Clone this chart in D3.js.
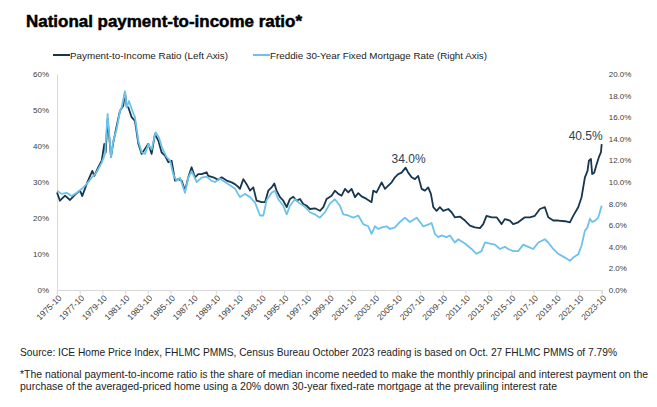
<!DOCTYPE html>
<html>
<head>
<meta charset="utf-8">
<script src="https://cdn.jsdelivr.net/npm/d3@7"></script>
<style>
  html, body { margin: 0; padding: 0; background: #fff; }
  svg { display: block; font-family: "Liberation Sans", Arial, sans-serif; }
</style>
</head>
<body>
<svg id="chart" width="657" height="407"></svg>
<script>
// ---- Data ----
const ratioDates = [1975.75,1976.01,1976.46,1976.90,1977.34,1977.78,1977.98,1978.36,1978.86,1979.04,1979.39,1979.69,1979.92,1980.04,1980.21,1980.51,1980.71,1981.01,1981.30,1981.59,1981.74,1981.89,1982.04,1982.33,1982.62,1982.92,1983.21,1983.50,1983.80,1984.09,1984.38,1984.68,1984.97,1985.27,1985.56,1985.85,1986.15,1986.44,1986.73,1987.03,1987.32,1987.61,1987.91,1988.20,1988.50,1988.94,1989.08,1989.52,1989.96,1990.26,1990.70,1991.14,1991.43,1991.73,1991.87,1992.17,1992.46,1992.76,1993.05,1993.34,1993.78,1994.08,1994.37,1994.66,1994.90,1995.10,1995.40,1995.69,1995.99,1996.28,1996.57,1996.87,1997.16,1997.45,1997.75,1998.04,1998.48,1998.92,1999.22,1999.51,1999.95,2000.24,2000.54,2000.83,2001.13,2001.42,2001.71,2002.01,2002.30,2002.59,2003.03,2003.47,2003.62,2003.91,2004.36,2004.65,2004.94,2005.24,2005.53,2005.82,2006.12,2006.47,2006.70,2007.00,2007.29,2007.58,2007.88,2008.17,2008.46,2008.70,2008.91,2009.20,2009.49,2009.79,2010.23,2010.52,2010.81,2011.25,2011.70,2012.14,2012.58,2013.02,2013.31,2013.60,2014.05,2014.49,2014.93,2015.22,2015.66,2015.95,2016.39,2016.98,2017.42,2017.86,2018.30,2018.74,2019.04,2019.48,2019.92,2020.51,2020.95,2021.24,2021.68,2021.97,2022.27,2022.50,2022.62,2022.80,2022.91,2023.09,2023.30,2023.50,2023.68,2023.75];
const ratioValues = [27.1,24.8,26.2,25.0,26.5,27.6,26.1,29.4,33.1,31.7,34.1,35.9,40.6,38.2,47.5,37.0,41.0,45.6,49.8,51.2,54.9,51.0,50.7,48.0,47.0,40.6,37.8,39.2,40.6,37.8,43.3,41.5,38.2,37.3,35.5,35.9,30.4,30.8,30.4,27.6,31.3,34.1,31.3,32.2,32.2,32.7,31.7,31.3,30.6,31.3,30.4,29.9,29.4,28.6,28.1,30.8,29.4,27.6,28.5,24.8,24.4,24.4,27.6,28.5,29.6,27.6,25.8,24.8,23.0,25.3,25.9,24.8,25.3,23.9,23.4,22.5,22.7,22.0,23.0,25.3,26.2,27.6,26.7,26.2,28.1,27.1,28.1,25.8,26.9,26.0,25.3,24.4,27.6,27.1,29.9,28.1,29.0,29.9,31.3,32.2,32.6,34.0,32.6,31.3,30.8,31.7,28.1,27.6,28.5,26.7,23.0,22.0,23.0,22.0,22.5,21.6,20.2,20.4,19.3,17.9,17.4,17.2,18.3,20.6,20.2,20.2,18.3,19.7,19.3,18.3,18.8,20.2,20.2,20.6,22.5,23.0,20.2,19.3,19.3,19.1,18.8,20.6,23.0,25.7,31.3,33.1,35.9,36.4,32.2,32.6,34.9,36.9,38.2,40.5];

const rateDates = [1975.75,1976.16,1976.60,1977.04,1977.48,1977.92,1978.36,1978.80,1979.24,1979.69,1979.98,1980.21,1980.51,1980.71,1981.01,1981.30,1981.45,1981.74,1981.89,1982.09,1982.39,1982.62,1982.92,1983.21,1983.50,1983.80,1984.09,1984.44,1984.74,1985.03,1985.41,1985.71,1986.00,1986.29,1986.59,1987.03,1987.32,1987.61,1988.06,1988.50,1988.94,1989.38,1989.67,1990.11,1990.55,1990.99,1991.43,1991.87,1992.31,1992.76,1993.20,1993.64,1993.93,1994.22,1994.66,1994.96,1995.25,1995.69,1995.99,1996.28,1996.72,1997.16,1997.60,1998.04,1998.48,1998.92,1999.36,1999.80,2000.24,2000.68,2000.98,2001.42,2001.86,2002.30,2002.74,2003.18,2003.47,2003.77,2004.06,2004.36,2004.80,2005.09,2005.53,2005.97,2006.41,2006.85,2007.44,2008.02,2008.46,2008.76,2009.05,2009.35,2009.64,2010.08,2010.37,2010.81,2011.11,2011.70,2012.28,2012.72,2013.16,2013.46,2013.90,2014.34,2014.78,2015.22,2015.51,2015.95,2016.39,2016.84,2017.28,2017.72,2018.16,2018.74,2019.04,2019.48,2019.92,2020.51,2020.95,2021.24,2021.68,2021.97,2022.27,2022.50,2022.71,2022.91,2023.15,2023.44,2023.75];
const rateValues = [9.2,8.9,9.0,8.7,9.0,9.35,9.8,10.4,10.9,11.8,12.6,16.3,12.3,13.8,14.9,16.6,16.9,18.4,16.9,17.5,16.6,16.0,13.8,12.75,12.6,13.5,13.0,14.6,14.1,13.1,12.3,12.0,10.7,10.1,10.4,9.0,10.4,11.0,10.0,10.4,10.5,10.1,10.0,10.3,10.0,9.7,9.4,8.6,8.9,8.6,8.1,6.9,6.9,8.3,9.0,9.2,8.4,7.8,7.0,7.8,8.4,8.0,7.7,7.2,7.0,6.7,7.2,8.0,8.4,7.8,7.0,6.9,6.7,6.9,6.1,5.9,5.2,5.9,5.65,5.8,5.9,5.65,5.8,6.3,6.7,6.3,6.7,5.9,6.05,6.2,5.2,4.9,5.05,4.9,5.05,4.4,4.7,4.3,3.8,3.35,3.6,4.4,4.3,4.2,3.8,4.0,3.8,3.6,3.6,4.2,4.0,3.8,4.4,4.7,4.4,3.8,3.35,3.0,2.7,3.0,3.3,4.1,5.5,5.8,6.6,6.3,6.4,6.7,7.8];

const tickYears = [1975.75,1977.75,1979.75,1981.75,1983.75,1985.75,1987.75,1989.75,1991.75,1993.75,1995.75,1997.75,1999.75,2001.75,2003.75,2005.75,2007.75,2009.75,2011.75,2013.75,2015.75,2017.75,2019.75,2021.75,2023.75];
const tickLabels = ["1975-10","1977-10","1979-10","1981-10","1983-10","1985-10","1987-10","1989-10","1991-10","1993-10","1995-10","1997-10","1999-10","2001-10","2003-10","2005-10","2007-10","2009-10","2011-10","2013-10","2015-10","2017-10","2019-10","2021-10","2023-10"];
const leftTicks = [0,10,20,30,40,50,60];
const rightTicks = [0,2,4,6,8,10,12,14,16,18,20];

const titleText = "National payment-to-income ratio*";
const seriesNames = ["Payment-to-Income Ratio (Left Axis)", "Freddie 30-Year Fixed Mortgage Rate (Right Axis)"];
const annotations = [{date: 2006.47, value: 34.0, label: "34.0%"}, {date: 2023.75, value: 40.5, label: "40.5%"}];
const footnotes = [
  "Source: ICE Home Price Index, FHLMC PMMS, Census Bureau October 2023 reading is based on Oct. 27 FHLMC PMMS of 7.79%",
  "*The national payment-to-income ratio is the share of median income needed to make the monthly principal and interest payment on the",
  "purchase of the averaged-priced home using a 20% down 30-year fixed-rate mortgage at the prevailing interest rate"
];

// ---- Drawing ----
const darkColor = "#17364d";
const lightColor = "#6cc2ea";
const textColor = "#404040";

const svg = d3.select("#chart");
const L = 57, R = 601.7, T = 74, B = 290;

const x = d3.scaleLinear().domain([1975.75, 2023.75]).range([L, R]);
const yL = d3.scaleLinear().domain([0, 60]).range([B, T]);
const yR = d3.scaleLinear().domain([0, 20]).range([B, T]);

// Title (heavy weight)
svg.append("text").attr("x", 26).attr("y", 27)
  .attr("font-size", 17).attr("font-weight", 700).attr("fill", "#000")
  .attr("stroke", "#000").attr("stroke-width", 0.5)
  .attr("textLength", 276).attr("lengthAdjust", "spacingAndGlyphs")
  .text(titleText);

// Legend
const legendItems = [
  {name: seriesNames[0], color: darkColor, x0: 53, tx: 70, w: 158},
  {name: seriesNames[1], color: lightColor, x0: 253, tx: 270, w: 217}
];
const lg = svg.append("g");
legendItems.forEach(d => {
  lg.append("line").attr("x1", d.x0).attr("x2", d.tx).attr("y1", 55).attr("y2", 55)
    .attr("stroke", d.color).attr("stroke-width", 2);
  lg.append("text").attr("x", d.tx).attr("y", 58.5).attr("font-size", 9.8).attr("fill", "#222")
    .attr("textLength", d.w).attr("lengthAdjust", "spacingAndGlyphs").text(d.name);
});

// Left axis
const gL = svg.append("g").attr("transform", `translate(${L},0)`)
  .call(d3.axisLeft(yL).tickValues(leftTicks).tickSize(0).tickPadding(8).tickFormat(d => d + "%"));
gL.select(".domain").attr("stroke", "#d9d9d9").attr("stroke-width", 1);
gL.selectAll("text").attr("font-size", 8).attr("fill", textColor).attr("font-family", "Liberation Sans, Arial, sans-serif");

// Right axis
const gR = svg.append("g").attr("transform", `translate(${R},0)`)
  .call(d3.axisRight(yR).tickValues(rightTicks).tickSize(0).tickPadding(7).tickFormat(d => d.toFixed(1) + "%"));
gR.select(".domain").remove();
gR.selectAll("text").attr("font-size", 8).attr("fill", textColor).attr("font-family", "Liberation Sans, Arial, sans-serif");

// Bottom axis
const gB = svg.append("g").attr("transform", `translate(0,${B})`)
  .call(d3.axisBottom(x).tickValues(tickYears).tickSize(4).tickFormat((d, i) => tickLabels[i]));
gB.select(".domain").attr("stroke", "#d9d9d9").attr("stroke-width", 1.2);
gB.selectAll(".tick line").attr("stroke", "#d9d9d9");
gB.selectAll("text")
  .attr("font-size", 8.5).attr("fill", textColor).attr("font-family", "Liberation Sans, Arial, sans-serif")
  .attr("text-anchor", "end").attr("dy", null).attr("y", 0).attr("x", 0)
  .attr("transform", "translate(3,7) rotate(-45)")
  .attr("dominant-baseline", "middle");

// Lines
const lineL = d3.line().x((d, i) => x(ratioDates[i])).y(d => yL(d));
const lineR = d3.line().x((d, i) => x(rateDates[i])).y(d => yR(d));
svg.append("path").attr("d", lineL(ratioValues)).attr("fill", "none")
  .attr("stroke", darkColor).attr("stroke-width", 1.8).attr("stroke-linejoin", "round");
svg.append("path").attr("d", lineR(rateValues)).attr("fill", "none")
  .attr("stroke", lightColor).attr("stroke-width", 1.8).attr("stroke-linejoin", "round");

// Annotations
svg.append("text").attr("x", x(annotations[0].date) + 3).attr("y", yL(annotations[0].value) - 5)
  .attr("text-anchor", "middle").attr("font-size", 12).attr("fill", "#2a3f52").text(annotations[0].label);
svg.append("text").attr("x", x(annotations[1].date) + 1).attr("y", yL(annotations[1].value) - 4)
  .attr("text-anchor", "end").attr("font-size", 12).attr("fill", "#2a3f52").text(annotations[1].label);

// Footnotes
const fn = [{y: 356, w: 597}, {y: 378, w: 628}, {y: 390, w: 537}];
footnotes.forEach((t, i) => {
  svg.append("text").attr("x", 20).attr("y", fn[i].y).attr("font-size", 10.5).attr("fill", "#222")
    .attr("textLength", fn[i].w).attr("lengthAdjust", "spacingAndGlyphs").text(t);
});
</script>
</body>
</html>
